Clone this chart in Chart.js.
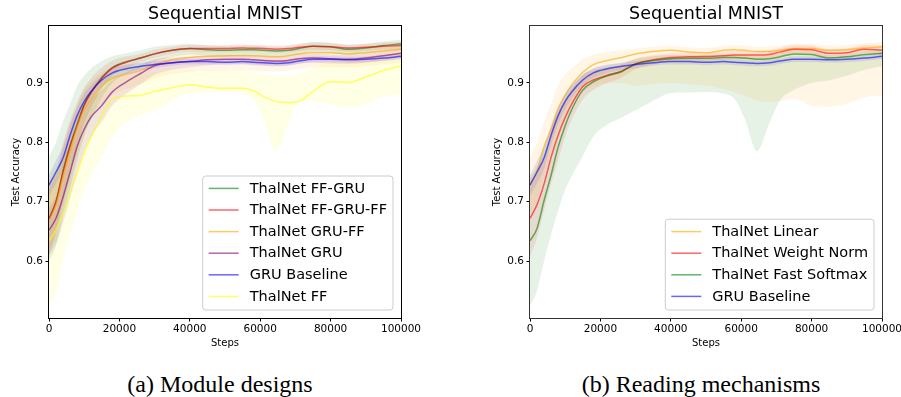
<!DOCTYPE html>
<html>
<head>
<meta charset="utf-8">
<script src="https://cdn.jsdelivr.net/npm/chart.js@4.4.1/dist/chart.umd.min.js"></script>
<style>
  html, body { margin: 0; padding: 0; background: #fff; overflow: hidden; }
  body { width: 901px; height: 397px; position: relative; }
  .panel { position: absolute; top: 0; width: 450px; height: 360px; }
  .caption {
    position: absolute; top: 372px; line-height: 24px;
    font-family: 'Liberation Serif', 'DejaVu Serif', serif; font-size: 24px;
    color: #000; transform: translateX(-50%); white-space: nowrap;
  }
</style>
</head>
<body>
<div class="panel" style="left:0"><canvas id="chartA" width="450" height="360"></canvas></div>
<div class="panel" style="left:481px"><canvas id="chartB" width="450" height="360"></canvas></div>
<div class="caption" style="left:220px">(a) Module designs</div>
<div class="caption" style="left:701px">(b) Reading mechanisms</div>
<script>
// x positions shared by every curve
const steps = [0, 2000, 4000, 6000, 8000, 10000, 12000, 15000, 18000, 22000, 26000, 30000, 35000, 40000,
  45000, 50000, 55000, 58000, 61000, 64500, 68000, 71000, 75000, 80000, 85000, 90000, 95000, 100000];
const xTicks = [0, 20000, 40000, 60000, 80000, 100000];
const yTicks = [0.6, 0.7, 0.8, 0.9];

// GRU baseline (same run in both panels)
const gruBase   = [0.728, 0.750, 0.774, 0.812, 0.845, 0.869, 0.886, 0.905, 0.917, 0.924, 0.928, 0.931, 0.934, 0.936, 0.936, 0.935, 0.936, 0.935, 0.934, 0.933, 0.934, 0.937, 0.940, 0.940, 0.939, 0.940, 0.942, 0.945];
const gruBaseLo = [0.710, 0.730, 0.755, 0.795, 0.830, 0.855, 0.875, 0.896, 0.909, 0.917, 0.922, 0.925, 0.929, 0.931, 0.931, 0.930, 0.931, 0.930, 0.929, 0.928, 0.929, 0.932, 0.935, 0.935, 0.934, 0.935, 0.937, 0.940];
const gruBaseHi = [0.745, 0.770, 0.793, 0.830, 0.860, 0.883, 0.897, 0.914, 0.925, 0.931, 0.934, 0.937, 0.939, 0.941, 0.941, 0.940, 0.941, 0.940, 0.939, 0.938, 0.939, 0.942, 0.945, 0.945, 0.944, 0.945, 0.947, 0.950];

// (a) module designs
const ffGru     = [0.671, 0.700, 0.752, 0.795, 0.830, 0.864, 0.885, 0.909, 0.926, 0.936, 0.942, 0.949, 0.955, 0.958, 0.956, 0.955, 0.956, 0.956, 0.955, 0.954, 0.955, 0.958, 0.962, 0.961, 0.957, 0.959, 0.963, 0.966];
const ffGruLo   = [0.600, 0.625, 0.675, 0.722, 0.770, 0.810, 0.840, 0.875, 0.900, 0.915, 0.925, 0.936, 0.944, 0.948, 0.946, 0.945, 0.946, 0.946, 0.945, 0.944, 0.945, 0.948, 0.952, 0.951, 0.947, 0.949, 0.953, 0.956];
const ffGruHi   = [0.776, 0.800, 0.835, 0.865, 0.895, 0.912, 0.925, 0.937, 0.945, 0.950, 0.955, 0.961, 0.964, 0.966, 0.963, 0.962, 0.963, 0.963, 0.962, 0.961, 0.962, 0.965, 0.969, 0.968, 0.964, 0.966, 0.970, 0.973];

const ffGruFf   = [0.671, 0.700, 0.750, 0.793, 0.828, 0.862, 0.884, 0.908, 0.925, 0.935, 0.942, 0.949, 0.955, 0.958, 0.958, 0.958, 0.959, 0.9585, 0.958, 0.957, 0.958, 0.960, 0.962, 0.961, 0.959, 0.960, 0.962, 0.963];
const ffGruFfLo = [0.607, 0.650, 0.700, 0.748, 0.788, 0.832, 0.859, 0.890, 0.912, 0.925, 0.935, 0.942, 0.949, 0.952, 0.952, 0.952, 0.953, 0.953, 0.952, 0.951, 0.952, 0.954, 0.956, 0.955, 0.953, 0.954, 0.956, 0.957];
const ffGruFfHi = [0.735, 0.750, 0.800, 0.838, 0.868, 0.892, 0.909, 0.926, 0.938, 0.945, 0.949, 0.956, 0.961, 0.964, 0.964, 0.964, 0.965, 0.964, 0.964, 0.963, 0.964, 0.966, 0.968, 0.967, 0.965, 0.966, 0.968, 0.969];

const gruFf     = [0.668, 0.695, 0.742, 0.785, 0.825, 0.855, 0.873, 0.895, 0.908, 0.915, 0.921, 0.931, 0.939, 0.943, 0.945, 0.9455, 0.946, 0.946, 0.945, 0.944, 0.946, 0.949, 0.951, 0.951, 0.949, 0.951, 0.954, 0.957];
const gruFfLo   = [0.620, 0.640, 0.690, 0.735, 0.775, 0.815, 0.840, 0.865, 0.880, 0.890, 0.898, 0.908, 0.915, 0.919, 0.920, 0.920, 0.921, 0.921, 0.920, 0.919, 0.921, 0.924, 0.926, 0.927, 0.926, 0.928, 0.931, 0.934];
const gruFfHi   = [0.720, 0.745, 0.790, 0.830, 0.862, 0.890, 0.903, 0.918, 0.926, 0.930, 0.933, 0.940, 0.947, 0.951, 0.953, 0.953, 0.954, 0.954, 0.953, 0.952, 0.954, 0.957, 0.959, 0.959, 0.957, 0.959, 0.962, 0.965];

const gru       = [0.652, 0.672, 0.708, 0.750, 0.793, 0.822, 0.843, 0.862, 0.885, 0.902, 0.916, 0.929, 0.934, 0.936, 0.939, 0.940, 0.940, 0.939, 0.938, 0.937, 0.938, 0.941, 0.942, 0.941, 0.940, 0.942, 0.946, 0.950];
const gruLo     = [0.610, 0.630, 0.665, 0.705, 0.750, 0.785, 0.810, 0.835, 0.862, 0.882, 0.898, 0.914, 0.922, 0.926, 0.930, 0.932, 0.932, 0.931, 0.930, 0.929, 0.930, 0.933, 0.934, 0.933, 0.932, 0.934, 0.938, 0.942];
const gruHi     = [0.690, 0.710, 0.750, 0.790, 0.830, 0.855, 0.872, 0.888, 0.906, 0.918, 0.930, 0.940, 0.943, 0.944, 0.946, 0.947, 0.947, 0.946, 0.945, 0.944, 0.945, 0.948, 0.949, 0.948, 0.947, 0.949, 0.953, 0.957];

const ff        = [0.634, 0.652, 0.680, 0.715, 0.748, 0.782, 0.809, 0.845, 0.873, 0.878, 0.879, 0.886, 0.892, 0.897, 0.893, 0.891, 0.891, 0.887, 0.877, 0.869, 0.867, 0.869, 0.886, 0.902, 0.901, 0.910, 0.921, 0.929];
const ffLo      = [0.525, 0.550, 0.600, 0.645, 0.685, 0.720, 0.745, 0.777, 0.810, 0.834, 0.845, 0.854, 0.870, 0.883, 0.884, 0.885, 0.882, 0.872, 0.838, 0.784, 0.832, 0.868, 0.869, 0.864, 0.859, 0.864, 0.877, 0.880];
const ffHi      = [0.740, 0.760, 0.775, 0.795, 0.818, 0.848, 0.870, 0.893, 0.908, 0.913, 0.915, 0.918, 0.920, 0.922, 0.921, 0.920, 0.920, 0.918, 0.915, 0.912, 0.912, 0.915, 0.925, 0.935, 0.938, 0.945, 0.952, 0.958];

// (b) reading mechanisms
const linear    = [0.728, 0.752, 0.793, 0.822, 0.857, 0.879, 0.898, 0.918, 0.931, 0.938, 0.943, 0.949, 0.953, 0.955, 0.952, 0.951, 0.955, 0.956, 0.955, 0.953, 0.953, 0.955, 0.958, 0.958, 0.955, 0.956, 0.959, 0.961];
const linearLo  = [0.680, 0.700, 0.745, 0.780, 0.815, 0.845, 0.865, 0.885, 0.895, 0.900, 0.900, 0.895, 0.898, 0.900, 0.898, 0.895, 0.890, 0.885, 0.878, 0.870, 0.868, 0.870, 0.873, 0.862, 0.860, 0.865, 0.876, 0.879];
const linearHi  = [0.776, 0.800, 0.835, 0.865, 0.897, 0.915, 0.925, 0.940, 0.948, 0.952, 0.955, 0.958, 0.961, 0.963, 0.960, 0.959, 0.963, 0.964, 0.963, 0.961, 0.961, 0.963, 0.966, 0.966, 0.963, 0.964, 0.967, 0.969];

const weightNorm   = [0.672, 0.695, 0.730, 0.775, 0.812, 0.842, 0.866, 0.894, 0.905, 0.913, 0.920, 0.932, 0.939, 0.943, 0.944, 0.9445, 0.946, 0.947, 0.947, 0.947, 0.948, 0.952, 0.957, 0.956, 0.950, 0.951, 0.957, 0.9555];
const weightNormLo = [0.607, 0.640, 0.685, 0.730, 0.770, 0.810, 0.840, 0.872, 0.888, 0.900, 0.909, 0.923, 0.931, 0.936, 0.937, 0.938, 0.939, 0.940, 0.940, 0.940, 0.941, 0.945, 0.950, 0.949, 0.943, 0.944, 0.950, 0.948];
const weightNormHi = [0.735, 0.750, 0.775, 0.818, 0.852, 0.873, 0.891, 0.914, 0.921, 0.926, 0.931, 0.941, 0.947, 0.950, 0.951, 0.951, 0.953, 0.954, 0.954, 0.954, 0.955, 0.959, 0.964, 0.963, 0.957, 0.958, 0.964, 0.963];

const fastSoftmax   = [0.634, 0.655, 0.702, 0.745, 0.792, 0.828, 0.857, 0.888, 0.902, 0.912, 0.919, 0.932, 0.938, 0.941, 0.9415, 0.9415, 0.943, 0.943, 0.942, 0.940, 0.941, 0.944, 0.949, 0.948, 0.942, 0.944, 0.948, 0.950];
const fastSoftmaxLo = [0.525, 0.550, 0.600, 0.645, 0.685, 0.720, 0.745, 0.777, 0.810, 0.830, 0.842, 0.854, 0.870, 0.883, 0.884, 0.885, 0.882, 0.874, 0.840, 0.785, 0.832, 0.870, 0.888, 0.900, 0.904, 0.912, 0.922, 0.928];
const fastSoftmaxHi = [0.740, 0.760, 0.790, 0.825, 0.855, 0.880, 0.897, 0.915, 0.924, 0.930, 0.934, 0.941, 0.945, 0.947, 0.947, 0.947, 0.948, 0.948, 0.947, 0.946, 0.947, 0.950, 0.955, 0.954, 0.948, 0.950, 0.954, 0.956];

const GREEN = [0, 128, 0], RED = [255, 0, 0], ORANGE = [255, 165, 0];
const PURPLE = [128, 0, 128], BLUE = [0, 0, 255], YELLOW = [255, 255, 0];

const rgba = (c, a) => `rgba(${c[0]},${c[1]},${c[2]},${a})`;
const pts = arr => steps.map((s, i) => ({ x: s, y: arr[i] }));

function buildDatasets(series) {
  const bands = [];
  const lines = [];
  series.forEach((s, k) => {
    bands.push({ data: pts(s.lo), borderWidth: 0, pointRadius: 0, fill: false, cubicInterpolationMode: 'monotone' });
    bands.push({ data: pts(s.hi), borderWidth: 0, pointRadius: 0, fill: '-1',
      backgroundColor: rgba(s.color, 0.1), cubicInterpolationMode: 'monotone' });
    lines.push({ label: s.label, legend: true, data: pts(s.mean), borderColor: rgba(s.color, 0.6),
      borderWidth: 1.5, pointRadius: 0, fill: false, cubicInterpolationMode: 'monotone', order: -k - 1 });
  });
  return bands.concat(lines);
}

const boxLegend = {
  id: 'boxLegend',
  afterDatasetsDraw(chart) {
    const items = chart.data.datasets.filter(d => d.legend);
    const { ctx, chartArea } = chart;
    ctx.save();
    ctx.font = '14.5px "DejaVu Sans"';
    const textW = Math.max(...items.map(d => ctx.measureText(d.label).width));
    const w = 6 + 30 + 11 + textW + 6;
    const h = items.length * 21.6 + 4.4;
    const x = chartArea.right - 8 - w;
    const y = chartArea.bottom - 8 - h;
    ctx.beginPath();
    ctx.roundRect(x, y, w, h, 3);
    ctx.fillStyle = 'rgba(255,255,255,0.8)';
    ctx.fill();
    ctx.strokeStyle = '#cccccc';
    ctx.lineWidth = 1;
    ctx.stroke();
    ctx.textBaseline = 'middle';
    ctx.fillStyle = '#000';
    items.forEach((d, i) => {
      const cy = y + 12.4 + i * 21.6;
      ctx.beginPath();
      ctx.moveTo(x + 6, cy);
      ctx.lineTo(x + 36, cy);
      ctx.strokeStyle = d.borderColor;
      ctx.lineWidth = 1.5;
      ctx.stroke();
      ctx.fillText(d.label, x + 47, cy + 0.5);
    });
    ctx.restore();
  }
};

const frame = {
  id: 'frame',
  afterDatasetsDraw(chart, args, opts) {
    const { ctx, chartArea: a } = chart;
    ctx.save();
    ctx.lineWidth = 1;
    ctx.strokeStyle = opts.color || '#000';
    ctx.strokeRect(a.left - 0.5, a.top - 0.5, a.right - a.left + 1, a.bottom - a.top + 1);
    ctx.restore();
  }
};

function makeChart(id, series, frameColor) {
  return new Chart(document.getElementById(id), {
    type: 'line',
    data: { datasets: buildDatasets(series) },
    plugins: [frame, boxLegend],
    options: {
      responsive: false,
      animation: false,
      devicePixelRatio: 1,
      layout: { padding: { left: 0, right: 49, top: 0, bottom: 0 } },
      plugins: {
        legend: { display: false },
        tooltip: { enabled: false },
        filler: { drawTime: 'beforeDatasetsDraw' },
        frame: { color: frameColor },
        title: {
          display: true, fullSize: false, text: 'Sequential MNIST', color: '#000',
          font: { family: 'DejaVu Sans', size: 17.5, weight: 'normal' },
          padding: { top: 3.5, bottom: 1.5 }
        }
      },
      scales: {
        x: {
          type: 'linear', min: 0, max: 100000,
          afterBuildTicks: s => { s.ticks = xTicks.map(v => ({ value: v })); },
          afterFit: s => { s.height = 42; },
          grid: { drawOnChartArea: false, tickLength: 3.5, tickColor: '#000' },
          border: { display: false },
          ticks: { color: '#000', font: { family: 'DejaVu Sans', size: 10.5 }, padding: 1.5,
            maxRotation: 0, autoSkip: false, callback: v => String(v) },
          title: { display: true, text: 'Steps', color: '#000',
            font: { family: 'DejaVu Sans', size: 10 }, padding: { top: 0, bottom: 10.5 } }
        },
        y: {
          min: 0.504, max: 0.996,
          afterBuildTicks: s => { s.ticks = yTicks.map(v => ({ value: v })); },
          afterFit: s => { s.width = 49; },
          grid: { drawOnChartArea: false, tickLength: 3.5, tickColor: '#000' },
          border: { display: false },
          ticks: { color: '#000', font: { family: 'DejaVu Sans', size: 10.5 }, padding: 2.5,
            callback: v => v.toFixed(1) },
          title: { display: true, text: 'Test Accuracy', color: '#000',
            font: { family: 'DejaVu Sans', size: 10 }, padding: { top: 10, bottom: 0 } }
        }
      }
    }
  });
}

Chart.defaults.font.family = 'DejaVu Sans';

makeChart('chartA', [
  { label: 'ThalNet FF-GRU', color: GREEN, mean: ffGru, lo: ffGruLo, hi: ffGruHi },
  { label: 'ThalNet FF-GRU-FF', color: RED, mean: ffGruFf, lo: ffGruFfLo, hi: ffGruFfHi },
  { label: 'ThalNet GRU-FF', color: ORANGE, mean: gruFf, lo: gruFfLo, hi: gruFfHi },
  { label: 'ThalNet GRU', color: PURPLE, mean: gru, lo: gruLo, hi: gruHi },
  { label: 'GRU Baseline', color: BLUE, mean: gruBase, lo: gruBaseLo, hi: gruBaseHi },
  { label: 'ThalNet FF', color: YELLOW, mean: ff, lo: ffLo, hi: ffHi }
], '#000');

makeChart('chartB', [
  { label: 'ThalNet Linear', color: ORANGE, mean: linear, lo: linearLo, hi: linearHi },
  { label: 'ThalNet Weight Norm', color: RED, mean: weightNorm, lo: weightNormLo, hi: weightNormHi },
  { label: 'ThalNet Fast Softmax', color: GREEN, mean: fastSoftmax, lo: fastSoftmaxLo, hi: fastSoftmaxHi },
  { label: 'GRU Baseline', color: BLUE, mean: gruBase, lo: gruBaseLo, hi: gruBaseHi }
], '#333');
</script>
</body>
</html>
